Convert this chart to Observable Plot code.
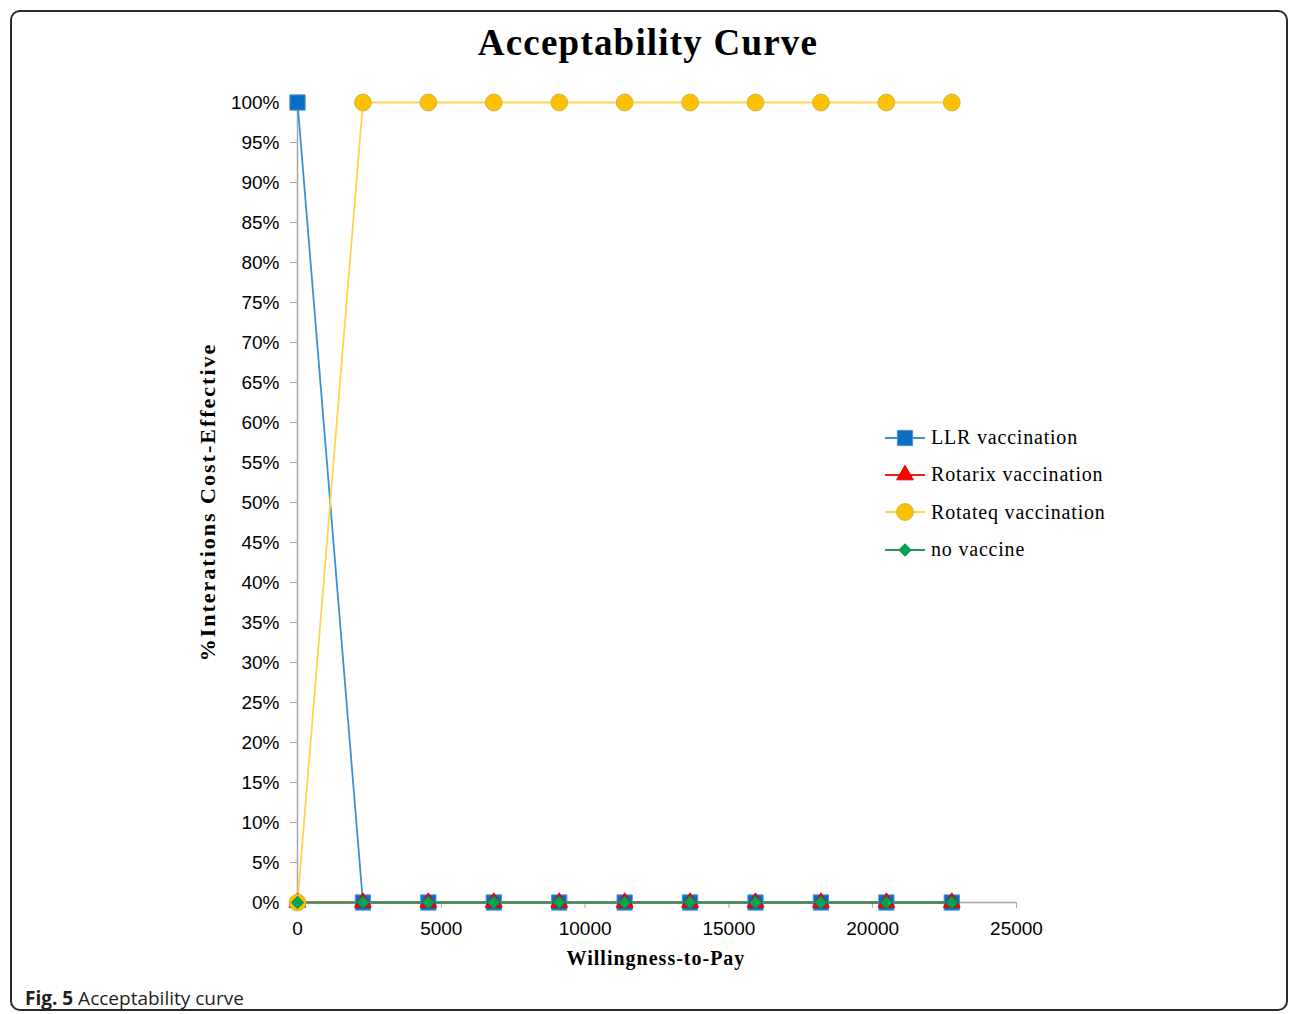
<!DOCTYPE html>
<html>
<head>
<meta charset="utf-8">
<script src="https://cdn.jsdelivr.net/npm/d3@7"></script>
<script src="https://cdn.jsdelivr.net/npm/@observablehq/plot@0.6"></script>
<style>
  html, body { margin: 0; padding: 0; background: #fff; }
  #wrap { position: relative; width: 1290px; height: 1014px; overflow: hidden; }
  #frame { position: absolute; left: 10px; top: 10px; width: 1278px; height: 1001px; border: 2px solid #2a2a2a; border-radius: 10px; box-sizing: border-box; }
  #title { position: absolute; left: 0; width: 1296px; top: 21px; text-align: center; font-family: "Liberation Serif", serif; font-weight: bold; font-size: 37px; letter-spacing: 1.2px; color: #000; }
  #chart { position: absolute; left: 0; top: 60px; }
  #ylab { position: absolute; left: 208px; top: 502px; transform: translate(-50%, -50%) rotate(-90deg); white-space: nowrap; font-family: "Liberation Serif", serif; font-weight: bold; font-size: 22px; letter-spacing: 2px; color: #000; }
  #xlab { position: absolute; left: 0; width: 1312px; top: 947px; text-align: center; font-family: "Liberation Serif", serif; font-weight: bold; font-size: 20px; letter-spacing: 1px; color: #000; }
  #legend { position: absolute; left: 883px; top: 419px; font-family: "Liberation Serif", serif; font-size: 20px; letter-spacing: 0.8px; color: #000; }
  .lrow { height: 37.3px; display: flex; align-items: center; white-space: nowrap; }
  .lrow svg { margin-right: 4px; }
  #caption { position: absolute; left: 25px; top: 985px; font-family: "Open Sans", sans-serif; font-size: 19px; color: #231f20; }
</style>
</head>
<body>
<div id="wrap">
  <div id="frame"></div>
  <div id="title"></div>
  <div id="chart"></div>
  <div id="ylab"></div>
  <div id="xlab"></div>
  <div id="legend"></div>
  <div id="caption"><b>Fig. 5</b> Acceptability curve</div>
</div>
<script>
// ---- data ----
const titleText = "Acceptability Curve";
const yLabel = "%Interations Cost-Effective";
const xLabel = "Willingness-to-Pay";
const wtp = [0, 2275, 4550, 6825, 9100, 11375, 13650, 15925, 18200, 20475, 22750];
const llr = [100, 0, 0, 0, 0, 0, 0, 0, 0, 0, 0];
const rotarix = [0, 0, 0, 0, 0, 0, 0, 0, 0, 0, 0];
const rotateq = [0, 100, 100, 100, 100, 100, 100, 100, 100, 100, 100];
const noVaccine = [0, 0, 0, 0, 0, 0, 0, 0, 0, 0, 0];
const seriesNames = ["LLR vaccination", "Rotarix  vaccination", "Rotateq vaccination", "no vaccine"];
const xTicks = [0, 5000, 10000, 15000, 20000, 25000];
const yTicks = [0, 5, 10, 15, 20, 25, 30, 35, 40, 45, 50, 55, 60, 65, 70, 75, 80, 85, 90, 95, 100];

// ---- styles ----
const styles = [
  {line: "#3d8fd8", fill: "#0a6fc4", mstroke: "#4a8fd4", symbol: "square", r: 8.6},
  {line: "#ff1a1a", fill: "#ff0000", mstroke: "#e00000", symbol: "triangle", r: 6.2},
  {line: "#ffd54f", fill: "#ffc000", mstroke: "#c9b64a", symbol: "circle", r: 8.4},
  {line: "#1f9a50", fill: "#00a651", mstroke: "#0b8a45", symbol: "diamond2", r: 5.6}
];
const seriesValues = [llr, rotarix, rotateq, noVaccine];
const rows = seriesValues.map((vals, s) => vals.map((v, i) => ({series: seriesNames[s], s, x: wtp[i], y: v})));

document.getElementById("title").textContent = titleText;
document.getElementById("ylab").textContent = yLabel;
document.getElementById("xlab").textContent = xLabel;

const marks = [
  Plot.ruleY([0], {x1: 0, x2: 25000, stroke: "#a6a6a6", strokeWidth: 1.5}),
  Plot.ruleX([0], {y1: 0, y2: 100, stroke: "#a6a6a6", strokeWidth: 1.5}),
  Plot.axisY({ticks: yTicks, tickFormat: d => d + "%", tickSize: 7, tickPadding: 11, stroke: "#a6a6a6", fill: "#000", fontSize: 19, fontFamily: "Liberation Sans, sans-serif", label: null}),
  Plot.axisX({ticks: xTicks, tickFormat: d => String(d), tickSize: 6, tickPadding: 13, stroke: "#a6a6a6", fill: "#000", fontSize: 19, fontFamily: "Liberation Sans, sans-serif", label: null})
];
rows.forEach((data, s) => {
  marks.push(Plot.line(data, {x: "x", y: "y", stroke: styles[s].line, strokeWidth: 1.8}));
});
rows.forEach((data, s) => {
  marks.push(Plot.dot(data, {x: "x", y: "y", symbol: () => styles[s].symbol, r: styles[s].r, fill: styles[s].fill, stroke: styles[s].mstroke, strokeWidth: 1}));
});

const chart = Plot.plot({
  width: 1290,
  height: 920,
  marginTop: 42,
  marginBottom: 78,
  marginLeft: 297,
  marginRight: 274,
  x: {domain: [0, 25000]},
  y: {domain: [0, 100]},
  symbol: {type: "identity"},
  style: {background: "transparent", overflow: "visible"},
  marks
});
document.getElementById("chart").appendChild(chart);

// ---- legend ----
const legend = document.getElementById("legend");
seriesNames.forEach((name, s) => {
  const row = document.createElement("div");
  row.className = "lrow";
  const sw = d3.create("svg").attr("width", 44).attr("height", 20);
  sw.append("line").attr("x1", 2).attr("x2", 42).attr("y1", 10).attr("y2", 10).attr("stroke", styles[s].line).attr("stroke-width", 1.8);
  const symMap = {square: d3.symbolSquare, triangle: d3.symbolTriangle, circle: d3.symbolCircle, diamond2: d3.symbolDiamond2};
  const r = styles[s].r;
  sw.append("path").attr("transform", "translate(22,10)")
    .attr("d", d3.symbol(symMap[styles[s].symbol], r * r * Math.PI)())
    .attr("fill", styles[s].fill).attr("stroke", styles[s].mstroke);
  row.appendChild(sw.node());
  const t = document.createElement("span");
  t.textContent = name;
  row.appendChild(t);
  legend.appendChild(row);
});
</script>
</body>
</html>
